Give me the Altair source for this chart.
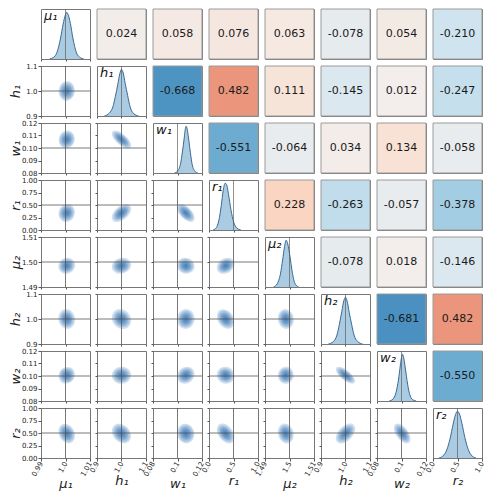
import math
import numpy as np
import pandas as pd
import altair as alt

# ---------------- data ----------------
params = ["mu1", "h1", "w1", "r1", "mu2", "h2", "w2", "r2"]
symbols = ["μ₁", "h₁", "w₁", "r₁", "μ₂", "h₂", "w₂", "r₂"]
truth = [1.0, 1.0, 0.1, 0.5, 1.5, 1.0, 0.1, 0.5]
post_mean = [1.0005, 1.0, 0.1068, 0.34, 1.4985, 1.0, 0.1006, 0.49]
post_sd = [0.0019, 0.022, 0.004, 0.1, 0.0018, 0.022, 0.0038, 0.11]
domains = [[0.99, 1.01], [0.9, 1.1], [0.08, 0.12], [0.0, 1.0],
           [1.49, 1.51], [0.9, 1.1], [0.08, 0.12], [0.0, 1.0]]

x_tick_values = [[0.99, 1.0, 1.01], [0.9, 1.0, 1.1], [0.08, 0.1, 0.12], [0.0, 0.5, 1.0],
                 [1.49, 1.5, 1.51], [0.9, 1.0, 1.1], [0.08, 0.1, 0.12], [0.0, 0.5, 1.0]]
x_tick_labels = [["0.99", "1.0", "1.01"], ["0.9", "1.0", "1.1"], ["0.08", "0.1", "0.12"],
                 ["0.0", "0.5", "1.0"], ["1.49", "1.5", "1.51"], ["0.9", "1.0", "1.1"],
                 ["0.08", "0.1", "0.12"], ["0.0", "0.5", "1.0"]]
y_tick_values = [[0.99, 1.0, 1.01], [0.9, 1.0, 1.1], [0.08, 0.09, 0.1, 0.11, 0.12],
                 [0.0, 0.25, 0.5, 0.75, 1.0], [1.49, 1.5, 1.51], [0.9, 1.0, 1.1],
                 [0.08, 0.09, 0.1, 0.11, 0.12], [0.0, 0.25, 0.5, 0.75, 1.0]]
y_tick_labels = [["0.99", "1.00", "1.01"], ["0.9", "1.0", "1.1"],
                 ["0.08", "0.09", "0.10", "0.11", "0.12"],
                 ["0.00", "0.25", "0.50", "0.75", "1.00"], ["1.49", "1.50", "1.51"],
                 ["0.9", "1.0", "1.1"], ["0.08", "0.09", "0.10", "0.11", "0.12"],
                 ["0.00", "0.25", "0.50", "0.75", "1.00"]]

# upper-triangle correlation coefficients, row by row
corr_mu1 = [0.024, 0.058, 0.076, 0.063, -0.078, 0.054, -0.210]
corr_h1 = [-0.668, 0.482, 0.111, -0.145, 0.012, -0.247]
corr_w1 = [-0.551, -0.064, 0.034, 0.134, -0.058]
corr_r1 = [0.228, -0.263, -0.057, -0.378]
corr_mu2 = [-0.078, 0.018, -0.146]
corr_h2 = [-0.681, 0.482]
corr_w2 = [-0.550]
corr_rows = [corr_mu1, corr_h1, corr_w1, corr_r1, corr_mu2, corr_h2, corr_w2]

# marginal densities (relative heights)
dens_x_mu1 = [0.9935, 0.995, 0.9965, 0.998, 0.999, 1.0, 1.0005, 1.001, 1.002, 1.003, 1.0045, 1.006, 1.0075]
dens_y_mu1 = [0.0, 0.03, 0.14, 0.45, 0.74, 0.95, 1.0, 0.96, 0.76, 0.45, 0.13, 0.03, 0.0]
dens_x_h1 = [0.93, 0.95, 0.965, 0.975, 0.985, 0.993, 1.0, 1.007, 1.015, 1.025, 1.035, 1.05, 1.07]
dens_y_h1 = [0.0, 0.06, 0.2, 0.42, 0.68, 0.9, 1.0, 0.92, 0.7, 0.44, 0.2, 0.05, 0.0]
dens_x_w1 = [0.0975, 0.1, 0.1025, 0.104, 0.1055, 0.1063, 0.107, 0.1078, 0.109, 0.1105, 0.112, 0.1145, 0.1165]
dens_y_w1 = [0.0, 0.04, 0.2, 0.45, 0.75, 0.93, 1.0, 0.95, 0.75, 0.44, 0.18, 0.03, 0.0]
dens_x_r1 = [0.08, 0.15, 0.2, 0.25, 0.29, 0.33, 0.36, 0.4, 0.45, 0.5, 0.57, 0.65]
dens_y_r1 = [0.0, 0.05, 0.2, 0.52, 0.85, 1.0, 0.97, 0.75, 0.42, 0.18, 0.04, 0.0]
dens_x_mu2 = [1.4935, 1.495, 1.4963, 1.4972, 1.498, 1.4986, 1.4993, 1.5002, 1.501, 1.5022, 1.5037]
dens_y_mu2 = [0.0, 0.07, 0.28, 0.58, 0.87, 1.0, 0.92, 0.65, 0.36, 0.08, 0.0]
dens_x_h2 = [0.93, 0.95, 0.965, 0.975, 0.985, 0.993, 1.0, 1.007, 1.015, 1.025, 1.035, 1.05, 1.07]
dens_y_h2 = [0.0, 0.05, 0.19, 0.42, 0.7, 0.92, 1.0, 0.91, 0.68, 0.42, 0.19, 0.05, 0.0]
dens_x_w2 = [0.09, 0.093, 0.0955, 0.0975, 0.099, 0.1, 0.1008, 0.1016, 0.1028, 0.1045, 0.1065, 0.109, 0.112]
dens_y_w2 = [0.0, 0.04, 0.18, 0.45, 0.75, 0.93, 1.0, 0.95, 0.76, 0.44, 0.16, 0.03, 0.0]
dens_x_r2 = [0.12, 0.2, 0.28, 0.35, 0.41, 0.46, 0.5, 0.54, 0.59, 0.65, 0.72, 0.8, 0.88]
dens_y_r2 = [0.0, 0.04, 0.17, 0.42, 0.72, 0.93, 1.0, 0.94, 0.74, 0.44, 0.18, 0.04, 0.0]
dens_x = [dens_x_mu1, dens_x_h1, dens_x_w1, dens_x_r1, dens_x_mu2, dens_x_h2, dens_x_w2, dens_x_r2]
dens_y = [dens_y_mu1, dens_y_h1, dens_y_w1, dens_y_r1, dens_y_mu2, dens_y_h2, dens_y_w2, dens_y_r2]

# ---------------- styling ----------------
W, H = 49, 50
N = 8
FONT = "DejaVu Sans"
BLOB = "#1f6aaf"
LINE = "#555555"
levels = [1.8, 1.5, 1.2, 0.95, 0.7, 0.45, 0.25]


def corr(i, j):
    a, b = min(i, j), max(i, j)
    return corr_rows[a][b - a - 1]


def lab_expr(vals, labs):
    expr = "''"
    for v, l in zip(reversed(vals), reversed(labs)):
        expr = f"abs(datum.value - ({v})) < 1e-9 ? '{l}' : {expr}"
    return expr


def x_axis(j, bottom):
    if bottom:
        return alt.Axis(values=x_tick_values[j], labelExpr=lab_expr(x_tick_values[j], x_tick_labels[j]),
                        labelAngle=300, labelAlign="right", labelBaseline="middle",
                        labelFontSize=7, labelPadding=1, labelFlush=False, labelOverlap=False,
                        tickSize=3, title=symbols[j], titleFontSize=13, titleFontStyle="italic",
                        titleFontWeight="normal", titlePadding=1)
    return alt.Axis(values=x_tick_values[j], labels=False, tickSize=2, title=None)


def y_axis(i, left):
    if left:
        return alt.Axis(values=y_tick_values[i], labelExpr=lab_expr(y_tick_values[i], y_tick_labels[i]),
                        labelFontSize=7, labelPadding=1, labelFlush=False, labelOverlap=False,
                        tickSize=3, title=symbols[i], titleFontSize=13, titleFontStyle="italic",
                        titleFontWeight="normal", titleAngle=270, titleBaseline="bottom", titleX=-19)
    return alt.Axis(values=y_tick_values[i], labels=False, tickSize=2, title=None)


def ellipse_path(sx, sy, rho, k):
    cov = np.array([[sx * sx, -rho * sx * sy], [-rho * sx * sy, sy * sy]])
    vals, vecs = np.linalg.eigh(cov)
    a = k * math.sqrt(max(vals[1], 1e-6))
    b = k * math.sqrt(max(vals[0], 1e-6))
    th = math.atan2(vecs[1, 1], vecs[0, 1])
    x1, y1 = a * math.cos(th), a * math.sin(th)
    deg = math.degrees(th)
    return (f"M{x1:.2f},{y1:.2f} A{a:.2f},{b:.2f} {deg:.2f} 0 1 {-x1:.2f},{-y1:.2f} "
            f"A{a:.2f},{b:.2f} {deg:.2f} 0 1 {x1:.2f},{y1:.2f} Z")


def lower_panel(i, j):
    xenc = alt.X("x:Q", scale=alt.Scale(domain=domains[j]), axis=x_axis(j, i == N - 1))
    yenc = alt.Y("y:Q", scale=alt.Scale(domain=domains[i]), axis=y_axis(i, j == 0))
    center = pd.DataFrame({"x": [post_mean[j]], "y": [post_mean[i]]})
    tr = pd.DataFrame({"x": [truth[j]], "y": [truth[i]]})
    sx = post_sd[j] * W / (domains[j][1] - domains[j][0])
    sy = post_sd[i] * H / (domains[i][1] - domains[i][0])
    rho = corr(i, j)
    layers = []
    for k in levels:
        layers.append(
            alt.Chart(center).mark_point(shape=ellipse_path(sx, sy, rho, k), size=4, filled=True,
                                         color=BLOB, opacity=0.21, strokeWidth=0, clip=True)
            .encode(x=xenc, y=yenc))
    vr = alt.Chart(tr).mark_rule(color=LINE, strokeWidth=0.8).encode(x=xenc)
    hr = alt.Chart(tr).mark_rule(color=LINE, strokeWidth=0.8).encode(y=yenc)
    return alt.layer(*layers, vr, hr).properties(width=W, height=H)


def diag_panel(i):
    df = pd.DataFrame({"x": dens_x[i], "d": dens_y[i]})
    xenc = alt.X("x:Q", scale=alt.Scale(domain=domains[i]), axis=x_axis(i, i == N - 1))
    yenc = alt.Y("d:Q", scale=alt.Scale(domain=[0, 1.07]), axis=None)
    area = alt.Chart(df).mark_area(color="#1f77b4", opacity=0.38, interpolate="monotone",
                                   clip=True).encode(x=xenc, y=yenc)
    line = alt.Chart(df).mark_line(color="#3a6a93", strokeWidth=1, interpolate="monotone",
                                   clip=True).encode(x=xenc, y=yenc)
    tr = pd.DataFrame({"x": [truth[i]]})
    rule = alt.Chart(tr).mark_rule(color=LINE, strokeWidth=0.8, opacity=0.8).encode(x=xenc)
    txt = alt.Chart(pd.DataFrame({"lab": [symbols[i]]})).mark_text(
        align="left", baseline="top", fontSize=13, fontStyle="italic", color="#111"
    ).encode(x=alt.value(3), y=alt.value(1), text="lab:N")
    return alt.layer(area, line, rule, txt).properties(width=W, height=H)


def upper_panel(i, j):
    v = corr(i, j)
    df = pd.DataFrame({"corr": [v], "lab": [f"{v:.3f}"]})
    rect = alt.Chart(df).mark_rect(stroke="#9a9a9a", strokeWidth=1).encode(
        x=alt.value(0), x2=alt.value(W), y=alt.value(0), y2=alt.value(H),
        color=alt.Color("corr:Q", scale=alt.Scale(scheme="redblue", reverse=True, domain=[-1, 1]),
                        legend=None))
    txt = alt.Chart(df).mark_text(fontSize=11, color="#1a1a1a").encode(
        x=alt.value(W / 2), y=alt.value(H / 2), text="lab:N")
    return alt.layer(rect, txt).properties(width=W, height=H)


panels = []
for i in range(N):
    for j in range(N):
        if i == j:
            panels.append(diag_panel(i))
        elif i > j:
            panels.append(lower_panel(i, j))
        else:
            panels.append(upper_panel(i, j))

chart = (
    alt.concat(*panels, columns=N, spacing=7, bounds="flush")
    .properties(padding=0)
    .configure(font=FONT)
    .configure_view(stroke="#777777", strokeWidth=1)
    .configure_axis(domain=False, grid=False, tickColor="#555555", labelColor="#222222",
                    titleColor="#222222", labelFont=FONT, titleFont=FONT)
)

chart.save("out.html", embed_options={"renderer": "svg", "actions": False})
